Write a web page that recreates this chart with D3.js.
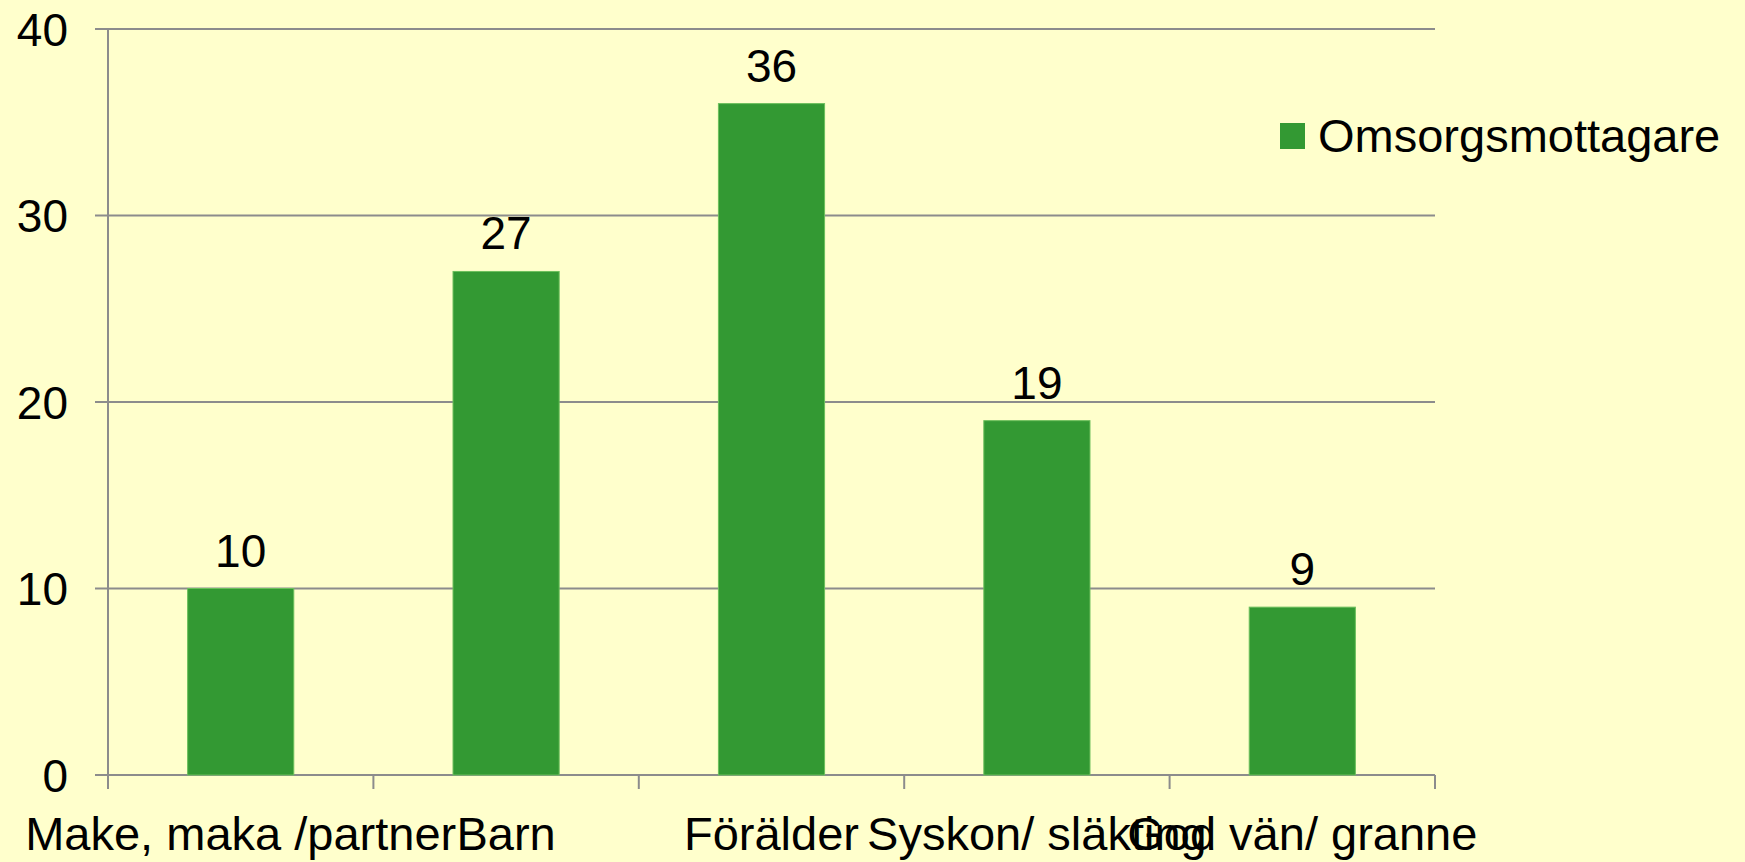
<!DOCTYPE html>
<html>
<head>
<meta charset="utf-8">
<script src="https://cdn.jsdelivr.net/npm/d3@7"></script>
<style>
  html, body { margin: 0; padding: 0; background: #ffffcc; }
  svg { display: block; }
  text { font-family: "Liberation Sans", Arial, sans-serif; fill: #000; }
</style>
</head>
<body>
<div id="chart"></div>
<script>
const categories = ['Make, maka /partner', 'Barn', 'Förälder', 'Syskon/ släkting', 'God vän/ granne'];
const values = [10, 27, 36, 19, 9];
const yTicks = [0, 10, 20, 30, 40];
const seriesName = 'Omsorgsmottagare';

const W = 1745;
const H = 862;
const gridColor = '#8c8c8c';
const barColor = '#339933';

const svg = d3.select('#chart')
  .append('svg')
  .attr('width', W)
  .attr('height', H);

svg.append('rect')
  .attr('width', W)
  .attr('height', H)
  .attr('fill', '#ffffcc');

const plotLeft = 108;
const plotRight = 1435;
const plotBottom = 775;
const plotTop = 29;

const x = d3.scaleBand()
  .domain(categories)
  .range([plotLeft, plotRight])
  .paddingInner(0.6)
  .paddingOuter(0.3);

const y = d3.scaleLinear()
  .domain([0, 40])
  .range([plotBottom, plotTop]);

// horizontal gridlines, with the small outward tick on the left
svg.append('g')
  .selectAll('line')
  .data(yTicks)
  .join('line')
  .attr('x1', plotLeft - 13)
  .attr('x2', plotRight)
  .attr('y1', (d) => y(d))
  .attr('y2', (d) => y(d))
  .attr('stroke', gridColor)
  .attr('stroke-width', 2);

// y axis line
svg.append('line')
  .attr('x1', plotLeft)
  .attr('x2', plotLeft)
  .attr('y1', plotTop)
  .attr('y2', plotBottom + 14)
  .attr('stroke', gridColor)
  .attr('stroke-width', 2);

// category boundary ticks below the baseline
const boundaries = d3.range(categories.length + 1)
  .map((i) => plotLeft + i * x.step());
svg.append('g')
  .selectAll('line')
  .data(boundaries)
  .join('line')
  .attr('x1', (d) => d)
  .attr('x2', (d) => d)
  .attr('y1', plotBottom)
  .attr('y2', plotBottom + 14)
  .attr('stroke', gridColor)
  .attr('stroke-width', 2);

// y tick labels
svg.append('g')
  .selectAll('text')
  .data(yTicks)
  .join('text')
  .attr('x', plotLeft - 40)
  .attr('y', (d) => y(d))
  .attr('dy', '0.36em')
  .attr('text-anchor', 'end')
  .attr('font-size', 46)
  .text((d) => d);

// bars
svg.append('g')
  .selectAll('rect')
  .data(values)
  .join('rect')
  .attr('x', (d, i) => x(categories[i]))
  .attr('y', (d) => y(d))
  .attr('width', x.bandwidth())
  .attr('height', (d) => y(0) - y(d))
  .attr('fill', barColor)
  .attr('stroke', '#6cbf5c')
  .attr('stroke-width', 1);

// value labels
svg.append('g')
  .selectAll('text')
  .data(values)
  .join('text')
  .attr('x', (d, i) => x(categories[i]) + x.bandwidth() / 2)
  .attr('y', (d) => y(d) - 22)
  .attr('text-anchor', 'middle')
  .attr('font-size', 46)
  .text((d) => d);

// category labels
svg.append('g')
  .selectAll('text')
  .data(categories)
  .join('text')
  .attr('x', (d) => x(d) + x.bandwidth() / 2)
  .attr('y', 850)
  .attr('text-anchor', 'middle')
  .attr('font-size', 47)
  .text((d) => d);

// legend
const legend = svg.append('g')
  .attr('transform', 'translate(1280,123)');
legend.append('rect')
  .attr('width', 25)
  .attr('height', 26)
  .attr('fill', barColor);
legend.append('text')
  .attr('x', 38)
  .attr('y', 29)
  .attr('font-size', 47)
  .text(seriesName);
</script>
</body>
</html>
